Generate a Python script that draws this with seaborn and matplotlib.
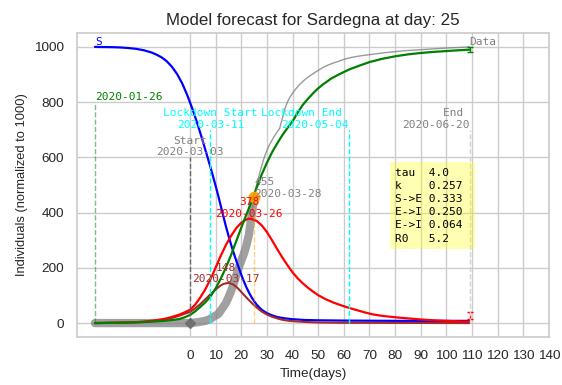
import matplotlib
matplotlib.use("Agg")
import matplotlib.pyplot as plt
import seaborn as sns

# ---- data ----
s_days = [-37, -30, -27, -24, -21, -18, -15, -13, -11, -9, -7, -5, -3, -1, 0, 1, 2, 3, 4, 5, 6, 7, 8, 9, 10,
          11, 12, 13, 14, 15, 16, 17, 18, 19, 20, 21, 22, 23, 24, 25, 26, 27, 28, 30, 32, 34, 37, 40, 45, 50, 60, 80, 109]
s_vals = [1000, 999, 998, 996, 993, 988, 980, 972, 962, 948, 928, 902, 868, 825, 800, 775, 748, 720, 690, 660, 628, 597, 565, 532, 498,
          463, 426, 388, 352, 318, 286, 256, 228, 202, 176, 152, 130, 111, 94, 80, 67, 57, 48, 36, 28, 22, 17, 14, 11, 10, 9, 8, 8]

e_days = [-37, -30, -25, -20, -16, -12, -9, -6, -4, -2, 0, 2, 4, 6, 8, 10, 11, 12, 13, 14, 15, 16, 17, 18, 19, 20,
          21, 22, 23, 24, 25, 26, 27, 28, 30, 32, 34, 36, 38, 40, 45, 50, 60, 109]
e_vals = [0, 1, 1, 3, 5, 9, 14, 21, 27, 34, 40, 53, 68, 86, 104, 121, 129, 136, 141, 144, 145, 143, 139, 132, 123, 113,
          103, 93, 83, 74, 65, 57, 49, 42, 31, 23, 17, 12, 9, 7, 4, 2, 1, 0]

i_days = [-37, -30, -25, -20, -16, -12, -9, -6, -4, -2, 0, 2, 4, 6, 8, 10, 12, 14, 16, 18, 20, 22, 23, 24, 26, 28, 30,
          32, 34, 36, 38, 40, 42, 44, 46, 48, 50, 53, 56, 59, 62, 65, 68, 71, 75, 80, 85, 90, 95, 100, 105, 109]
i_vals = [0, 1, 2, 4, 7, 12, 17, 25, 31, 39, 48, 66, 92, 122, 158, 200, 243, 282, 315, 343, 363, 375, 378, 377, 370, 354, 330,
          300, 268, 238, 210, 184, 162, 144, 128, 114, 101, 86, 74, 64, 55, 47, 39, 32, 26, 21, 17, 13, 10, 8, 6, 5]

r_days = [-37, -30, -25, -20, -15, -10, -6, -4, -2, 0, 2, 4, 6, 8, 10, 12, 14, 16, 18, 20, 22, 24, 26, 28, 30, 32, 34, 36, 38,
          40, 42, 44, 46, 48, 50, 52, 55, 58, 62, 66, 70, 75, 80, 85, 90, 95, 100, 105, 109]
r_vals = [0, 1, 2, 3, 5, 8, 12, 15, 21, 29, 42, 58, 75, 96, 125, 160, 200, 245, 295, 345, 392, 440, 490, 538, 580, 618, 650, 680, 706,
          730, 762, 790, 812, 832, 850, 865, 885, 900, 918, 932, 945, 957, 966, 973, 978, 982, 985, 988, 990]

obs_days = [-37, -20, 0, 3, 6, 8, 9, 10, 11, 12, 13, 14, 15, 16, 17, 18, 19, 20, 21, 22, 23, 24, 25]
obs_vals = [0, 0, 0, 3, 8, 15, 22, 27, 32, 45, 58, 72, 92, 115, 140, 170, 200, 225, 250, 280, 320, 385, 455]

full_days = [24, 25, 26, 27, 28, 29, 30, 31, 32, 33, 34, 35, 36, 37, 38, 39, 40, 41, 42, 43, 44, 45, 46, 48, 50,
             52, 54, 56, 58, 60, 63, 66, 70, 75, 80, 85, 90, 95, 100, 105, 109]
full_vals = [385, 455, 500, 535, 570, 600, 625, 645, 662, 678, 692, 705, 740, 775, 800, 818, 832, 845, 856, 866, 875, 883, 890, 903, 915,
             926, 935, 942, 948, 955, 962, 967, 972, 978, 983, 987, 990, 993, 996, 998, 1000]

x_ticks = list(range(0, 141, 10))
y_ticks = [0, 200, 400, 600, 800, 1000]

params_text = "tau  4.0\nk    0.257\nS->E 0.333 \nE->I 0.250\nE->I 0.064\nR0   5.2"

sns.set_theme(style="whitegrid")
plt.rcParams['font.family'] = ['Liberation Sans', 'DejaVu Sans']

fig = plt.figure(figsize=(5.62, 3.85), dpi=100)
ax = fig.add_axes([0.137, 0.125, 0.840, 0.789])

mono = 'DejaVu Sans Mono'

# observed data (thick) and full data (thin)
sns.lineplot(x=obs_days, y=obs_vals, ax=ax, color='gray', alpha=0.75, lw=6,
             solid_capstyle='round', sort=False)
sns.lineplot(x=full_days, y=full_vals, ax=ax, color='gray', lw=1, alpha=0.8, sort=False)

sns.lineplot(x=s_days, y=s_vals, ax=ax, color='blue', lw=1.6)
sns.lineplot(x=e_days, y=e_vals, ax=ax, color='brown', lw=1.5)
sns.lineplot(x=i_days, y=i_vals, ax=ax, color='red', lw=1.6)
sns.lineplot(x=r_days, y=r_vals, ax=ax, color='green', lw=1.6)

# start diamond
ax.plot([0], [0], marker='D', color='dimgray', ms=5, alpha=0.8)
# current point
ax.plot([25], [455], marker='o', color='orange', ms=7.5, alpha=0.9)

# error bars at the end
ax.errorbar([109], [990], yerr=[10], color='green', capsize=2, lw=1)
ax.errorbar([109], [27], yerr=[13], color='red', capsize=2, lw=1)

# vertical dashed markers
ax.plot([-37, -37], [0, 800], ls='--', color='green', alpha=0.5, lw=1)
ax.plot([0, 0], [0, 600], ls='--', color='dimgray', lw=1)
ax.plot([8, 8], [0, 700], ls='--', color='cyan', lw=1)
ax.plot([62, 62], [0, 700], ls='--', color='cyan', lw=1)
ax.plot([109, 109], [0, 700], ls='--', color='lightgray', lw=1)
ax.plot([25, 25], [0, 455], ls='--', color='orange', alpha=0.5, lw=1)

fs = 8
ax.text(-37, 1000, "S", color='blue', family=mono, fontsize=fs, ha='left', va='bottom')
ax.text(109, 1000, "Data", color='gray', family=mono, fontsize=fs, ha='left', va='bottom')
ax.text(-37, 800, "2020-01-26", color='green', family=mono, fontsize=fs, ha='left', va='bottom')
ax.text(0, 600, "Start\n2020-03-03", color='gray', family=mono, fontsize=fs, ha='center', va='bottom')
ax.text(8, 700, "Lockdown Start\n2020-03-11", color='cyan', family=mono, fontsize=fs, ha='center', va='bottom')
ax.text(62, 700, "Lockdown End \n2020-05-04", color='cyan', family=mono, fontsize=fs, ha='right', va='bottom', multialignment='right')
ax.text(109, 700, "End \n2020-06-20", color='gray', family=mono, fontsize=fs, ha='right', va='bottom', multialignment='right')
ax.text(23, 378, "378\n2020-03-26", color='red', family=mono, fontsize=fs, ha='center', va='bottom')
ax.text(14, 140, "148\n2020-03-17", color='brown', family=mono, fontsize=fs, ha='center', va='bottom')
ax.text(25, 450, "455\n2020-03-28", color='gray', family=mono, fontsize=fs, ha='left', va='bottom')
ax.text(80, 288, params_text, color='black', family=mono, fontsize=fs, ha='left', va='bottom',
        linespacing=1.4, bbox=dict(facecolor='yellow', alpha=0.3, edgecolor='none', pad=4))

ax.set_xlim(-44, 140)
ax.set_ylim(-50, 1050)
ax.set_xticks(x_ticks)
ax.set_yticks(y_ticks)
ax.tick_params(labelsize=9.7)
ax.set_xlabel("Time(days)", fontsize=9.7)
ax.set_ylabel("Individuals (normalized to 1000)", fontsize=9.3)
ax.set_title("Model forecast for Sardegna at day: 25", fontsize=12.2)

fig.savefig("out.png", dpi=100)
